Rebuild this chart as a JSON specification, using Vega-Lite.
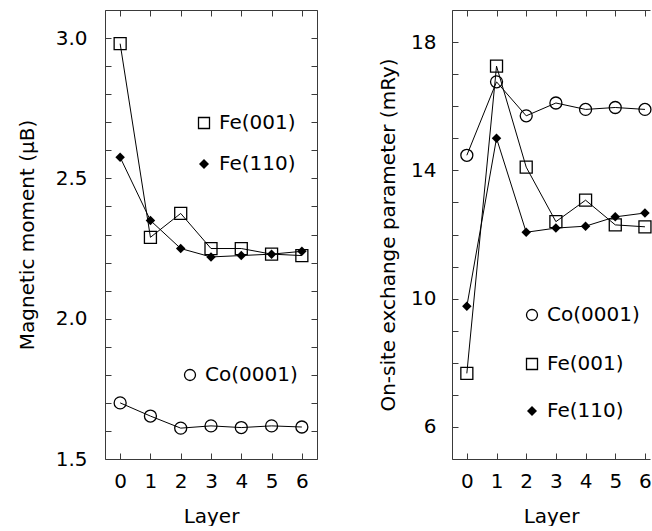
{
  "$schema": "https://vega.github.io/schema/vega-lite/v6.json",
  "padding": {"left": 17, "top": 9, "right": 0, "bottom": 0},
  "background": "white",
  "datasets": {
    "moment": [
      {"series": "Fe(001)", "layer": 0, "value": 2.98},
      {"series": "Fe(001)", "layer": 1, "value": 2.29},
      {"series": "Fe(001)", "layer": 2, "value": 2.375},
      {"series": "Fe(001)", "layer": 3, "value": 2.25},
      {"series": "Fe(001)", "layer": 4, "value": 2.25},
      {"series": "Fe(001)", "layer": 5, "value": 2.23},
      {"series": "Fe(001)", "layer": 6, "value": 2.225},
      {"series": "Fe(110)", "layer": 0, "value": 2.575},
      {"series": "Fe(110)", "layer": 1, "value": 2.35},
      {"series": "Fe(110)", "layer": 2, "value": 2.25},
      {"series": "Fe(110)", "layer": 3, "value": 2.22},
      {"series": "Fe(110)", "layer": 4, "value": 2.225},
      {"series": "Fe(110)", "layer": 5, "value": 2.23},
      {"series": "Fe(110)", "layer": 6, "value": 2.24},
      {"series": "Co(0001)", "layer": 0, "value": 1.70},
      {"series": "Co(0001)", "layer": 1, "value": 1.653},
      {"series": "Co(0001)", "layer": 2, "value": 1.61},
      {"series": "Co(0001)", "layer": 3, "value": 1.618},
      {"series": "Co(0001)", "layer": 4, "value": 1.612},
      {"series": "Co(0001)", "layer": 5, "value": 1.618},
      {"series": "Co(0001)", "layer": 6, "value": 1.614}
    ],
    "exchange": [
      {"series": "Co(0001)", "layer": 0, "value": 14.47},
      {"series": "Co(0001)", "layer": 1, "value": 16.76},
      {"series": "Co(0001)", "layer": 2, "value": 15.7},
      {"series": "Co(0001)", "layer": 3, "value": 16.1},
      {"series": "Co(0001)", "layer": 4, "value": 15.9},
      {"series": "Co(0001)", "layer": 5, "value": 15.96},
      {"series": "Co(0001)", "layer": 6, "value": 15.9},
      {"series": "Fe(001)", "layer": 0, "value": 7.67},
      {"series": "Fe(001)", "layer": 1, "value": 17.25},
      {"series": "Fe(001)", "layer": 2, "value": 14.1},
      {"series": "Fe(001)", "layer": 3, "value": 12.4},
      {"series": "Fe(001)", "layer": 4, "value": 13.07},
      {"series": "Fe(001)", "layer": 5, "value": 12.3},
      {"series": "Fe(001)", "layer": 6, "value": 12.24},
      {"series": "Fe(110)", "layer": 0, "value": 9.76},
      {"series": "Fe(110)", "layer": 1, "value": 15.0},
      {"series": "Fe(110)", "layer": 2, "value": 12.07},
      {"series": "Fe(110)", "layer": 3, "value": 12.2},
      {"series": "Fe(110)", "layer": 4, "value": 12.26},
      {"series": "Fe(110)", "layer": 5, "value": 12.55},
      {"series": "Fe(110)", "layer": 6, "value": 12.67}
    ]
  },
  "spacing": 60,
  "hconcat": [
    {
      "width": 212,
      "height": 449,
      "data": {"name": "moment"},
      "layer": [
        {
          "mark": {"type": "line", "color": "black", "strokeWidth": 1},
          "encoding": {
            "x": {"field": "layer", "type": "quantitative", "scale": {"domain": [-0.5, 6.5], "nice": false, "zero": false},
              "axis": {"orient": "bottom", "values": [0, 1, 2, 3, 4, 5, 6], "format": "d", "title": "Layer", "labelPadding": 18, "titlePadding": 15}},
            "y": {"field": "value", "type": "quantitative", "scale": {"domain": [1.5, 3.1], "nice": false, "zero": false},
              "axis": {"orient": "left", "values": [1.5, 1.6, 1.7, 1.8, 1.9, 2.0, 2.1, 2.2, 2.3, 2.4, 2.5, 2.6, 2.7, 2.8, 2.9, 3.0, 3.1],
                "labelExpr": "(round(datum.value*10) % 5 == 0) ? format(datum.value, '.1f') : ''",
                "title": "Magnetic moment (μB)", "labelPadding": 24, "titlePadding": 18}},
            "detail": {"field": "series"}
          }
        },
        {
          "transform": [{"filter": "datum.series == 'Fe(001)'"}],
          "mark": {"type": "point", "filled": false, "color": "black", "strokeWidth": 1.3, "size": 144, "opacity": 1},
          "encoding": {
            "x": {"field": "layer", "type": "quantitative", "axis": null},
            "y": {"field": "value", "type": "quantitative", "axis": null},
            "shape": {"field": "series", "type": "nominal", "scale": {"domain": ["Fe(001)"], "range": ["square"]},
              "legend": {"orient": "none", "legendX": 89, "legendY": 103, "title": null}}
          }
        },
        {
          "transform": [{"filter": "datum.series == 'Fe(110)'"}],
          "mark": {"type": "point", "filled": true, "color": "black", "size": 90, "opacity": 1},
          "encoding": {
            "x": {"field": "layer", "type": "quantitative", "axis": null},
            "y": {"field": "value", "type": "quantitative", "axis": null},
            "shape": {"field": "series", "type": "nominal", "scale": {"domain": ["Fe(110)"], "range": ["diamond"]},
              "legend": {"orient": "none", "legendX": 89, "legendY": 144, "title": null, "symbolSize": 100}}
          }
        },
        {
          "transform": [{"filter": "datum.series == 'Co(0001)'"}],
          "mark": {"type": "point", "filled": false, "color": "black", "strokeWidth": 1.3, "size": 144, "opacity": 1},
          "encoding": {
            "x": {"field": "layer", "type": "quantitative", "axis": null},
            "y": {"field": "value", "type": "quantitative", "axis": null},
            "shape": {"field": "series", "type": "nominal", "scale": {"domain": ["Co(0001)"], "range": ["circle"]},
              "legend": {"orient": "none", "legendX": 75, "legendY": 355, "title": null}}
          }
        },
        {
          "mark": {"type": "point", "opacity": 0},
          "encoding": {
            "x": {"field": "layer", "type": "quantitative",
              "axis": {"orient": "top", "values": [0, 1, 2, 3, 4, 5, 6], "labels": false, "title": null}},
            "y": {"field": "value", "type": "quantitative",
              "axis": {"orient": "right", "values": [1.5, 1.6, 1.7, 1.8, 1.9, 2.0, 2.1, 2.2, 2.3, 2.4, 2.5, 2.6, 2.7, 2.8, 2.9, 3.0, 3.1], "labels": false, "title": null}}
          }
        }
      ],
      "resolve": {"scale": {"shape": "independent"}, "legend": {"shape": "independent"}, "axis": {"x": "independent", "y": "independent"}}
    },
    {
      "width": 198,
      "height": 449,
      "data": {"name": "exchange"},
      "layer": [
        {
          "mark": {"type": "line", "color": "black", "strokeWidth": 1},
          "encoding": {
            "x": {"field": "layer", "type": "quantitative", "scale": {"domain": [-0.5, 6.17], "nice": false, "zero": false},
              "axis": {"orient": "bottom", "values": [0, 1, 2, 3, 4, 5, 6], "format": "d", "title": "Layer", "labelPadding": 18, "titlePadding": 15}},
            "y": {"field": "value", "type": "quantitative", "scale": {"domain": [5, 19], "nice": false, "zero": false},
              "axis": {"orient": "left", "values": [5, 6, 7, 8, 9, 10, 11, 12, 13, 14, 15, 16, 17, 18, 19],
                "labelExpr": "(datum.value % 4 == 2) ? format(datum.value, 'd') : ''",
                "title": "On-site exchange parameter (mRy)", "labelPadding": 22, "titlePadding": 12}},
            "detail": {"field": "series"}
          }
        },
        {
          "transform": [{"filter": "datum.series == 'Co(0001)'"}],
          "mark": {"type": "point", "filled": false, "color": "black", "strokeWidth": 1.3, "size": 144, "opacity": 1},
          "encoding": {
            "x": {"field": "layer", "type": "quantitative", "axis": null},
            "y": {"field": "value", "type": "quantitative", "axis": null},
            "shape": {"field": "series", "type": "nominal", "scale": {"domain": ["Co(0001)"], "range": ["circle"]},
              "legend": {"orient": "none", "legendX": 70, "legendY": 295, "title": null}}
          }
        },
        {
          "transform": [{"filter": "datum.series == 'Fe(001)'"}],
          "mark": {"type": "point", "filled": false, "color": "black", "strokeWidth": 1.3, "size": 144, "opacity": 1},
          "encoding": {
            "x": {"field": "layer", "type": "quantitative", "axis": null},
            "y": {"field": "value", "type": "quantitative", "axis": null},
            "shape": {"field": "series", "type": "nominal", "scale": {"domain": ["Fe(001)"], "range": ["square"]},
              "legend": {"orient": "none", "legendX": 70, "legendY": 344, "title": null}}
          }
        },
        {
          "transform": [{"filter": "datum.series == 'Fe(110)'"}],
          "mark": {"type": "point", "filled": true, "color": "black", "size": 90, "opacity": 1},
          "encoding": {
            "x": {"field": "layer", "type": "quantitative", "axis": null},
            "y": {"field": "value", "type": "quantitative", "axis": null},
            "shape": {"field": "series", "type": "nominal", "scale": {"domain": ["Fe(110)"], "range": ["diamond"]},
              "legend": {"orient": "none", "legendX": 70, "legendY": 391, "title": null, "symbolSize": 100}}
          }
        },
        {
          "mark": {"type": "point", "opacity": 0},
          "encoding": {
            "x": {"field": "layer", "type": "quantitative",
              "axis": {"orient": "top", "values": [0, 1, 2, 3, 4, 5, 6], "labels": false, "title": null}},
            "y": {"field": "value", "type": "quantitative", "axis": null}
          }
        }
      ],
      "resolve": {"scale": {"shape": "independent"}, "legend": {"shape": "independent"}, "axis": {"x": "independent", "y": "independent"}}
    }
  ],
  "resolve": {"scale": {"shape": "independent"}, "legend": {"shape": "independent"}},
  "config": {
    "view": {"stroke": null},
    "font": "DejaVu Sans",
    "axis": {
      "grid": false,
      "domainColor": "#3a3a3a",
      "tickColor": "#3a3a3a",
      "tickSize": -6,
      "labelFont": "DejaVu Sans",
      "labelFontSize": 20,
      "labelColor": "black",
      "titleFont": "DejaVu Sans",
      "titleFontSize": 20,
      "titleFontWeight": "normal",
      "titleColor": "black"
    },
    "legend": {
      "labelFont": "DejaVu Sans",
      "labelFontSize": 20,
      "labelColor": "black",
      "symbolSize": 121,
      "symbolStrokeColor": "black",
      "symbolStrokeWidth": 1.3,
      "labelOffset": 5,
      "padding": 0
    }
  }
}
